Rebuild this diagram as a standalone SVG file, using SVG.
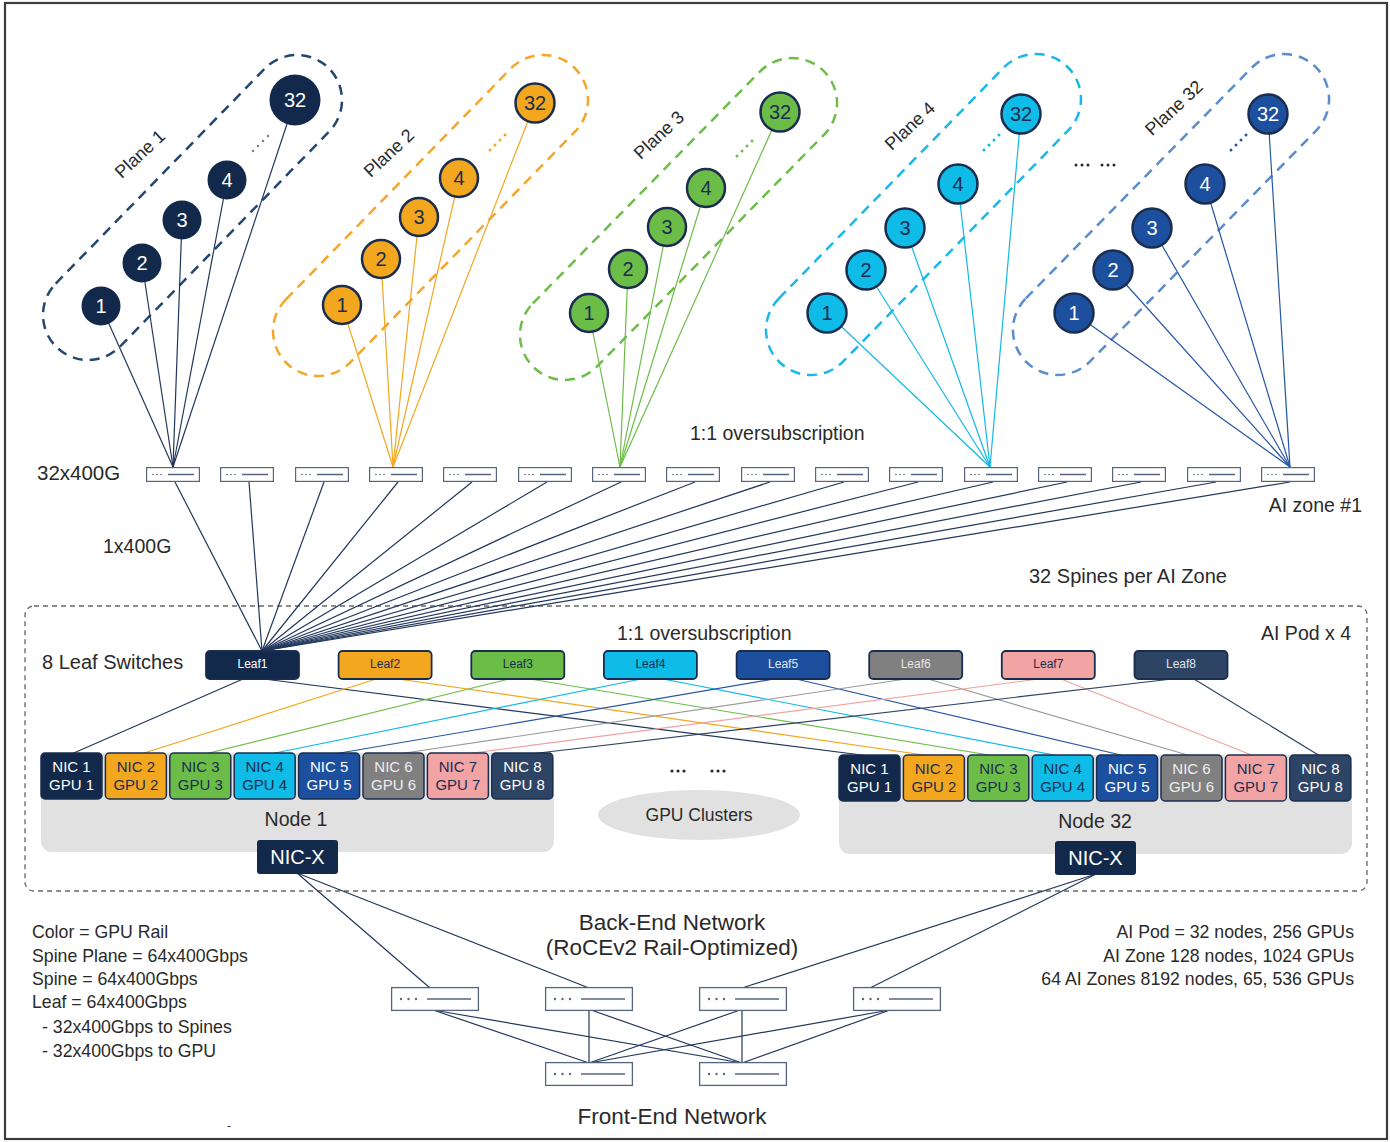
<svg xmlns="http://www.w3.org/2000/svg" width="1390" height="1142" viewBox="0 0 1390 1142">
<style>
text{font-family:"Liberation Sans",Arial,sans-serif;fill:#2a2a2a}
.lbl{font-size:19.5px}
.note{font-size:17.7px}
.big{font-size:22.5px}
.mid{text-anchor:middle}
.end{text-anchor:end}
.cap{fill:none;stroke-width:2.5;stroke-dasharray:10 7}
.num{font-size:20px;text-anchor:middle;dominant-baseline:central}
.plane{font-size:18px;text-anchor:middle;dominant-baseline:central}
.ring{stroke:#1b2d4f;stroke-width:2.5}
.leaf{stroke:#1b2d4f;stroke-width:1.8}
.leaft{font-size:12px;text-anchor:middle}
.nic{stroke:#1b2d4f;stroke-width:1.5}
.nict{font-size:15px;text-anchor:middle}
.wt{fill:#ffffff}
.dk{fill:#1b2d4f}
.conn line{stroke-width:1.2;fill:none}
.c-navy{stroke:#22375c}
.c-or{stroke:#f2a61f}
.c-gr{stroke:#6cbd48}
.c-cy{stroke:#12b8e6}
.c-bl{stroke:#2556a6}
.c-gy{stroke:#9a9a9a}
.c-pk{stroke:#f0a2a2}
.c-sl{stroke:#2e4465}
</style>
<defs>
  <!-- small spine switch icon -->
  <g id="spine-icon">
    <rect x="0.6" y="0.6" width="52.8" height="13.8" fill="#ffffff" stroke="#56657f" stroke-width="1.2"/>
    <circle cx="7" cy="7.5" r="0.8" fill="#56657f"/>
    <circle cx="11" cy="7.5" r="0.8" fill="#56657f"/>
    <circle cx="15" cy="7.5" r="0.8" fill="#56657f"/>
    <line x1="22" y1="7.5" x2="48" y2="7.5" stroke="#56657f" stroke-width="1.5"/>
  </g>
  <!-- front-end switch icon -->
  <g id="fe-icon">
    <rect x="0.6" y="0.6" width="86.8" height="22.8" fill="#ffffff" stroke="#56657f" stroke-width="1.3"/>
    <circle cx="10" cy="12" r="1.2" fill="#56657f"/>
    <circle cx="17.5" cy="12" r="1.2" fill="#56657f"/>
    <circle cx="25" cy="12" r="1.2" fill="#56657f"/>
    <line x1="36" y1="12" x2="80" y2="12" stroke="#56657f" stroke-width="1.5"/>
  </g>
</defs>

<rect x="0" y="0" width="1390" height="1142" fill="#ffffff"/>
<rect x="5" y="3" width="1382" height="1136" fill="none" stroke="#3c3c3c" stroke-width="2.2"/>

<!-- AI Pod boundary -->
<rect x="25" y="606" width="1342" height="285" rx="9" fill="none" stroke="#666" stroke-width="1.3" stroke-dasharray="5 4"/>

<!-- plane enclosures -->
<g id="plane-enclosures">
  <rect class="cap" stroke="#24476f" x="-194.9" y="-45" width="389.8" height="90" rx="45" transform="translate(192.5,207.5) rotate(-45.8)"/>
  <rect class="cap" stroke="#f4a62a" x="-206.25" y="-45" width="412.5" height="90" rx="45" transform="translate(430.5,215.5) rotate(-45.76)"/>
  <rect class="cap" stroke="#6cbd48" x="-207.3" y="-45" width="414.6" height="90" rx="45" transform="translate(678.5,219) rotate(-45.6)"/>
  <rect class="cap" stroke="#1ab8e8" x="-206.25" y="-45" width="412.5" height="90" rx="45" transform="translate(923.5,214.5) rotate(-45.76)"/>
  <rect class="cap" stroke="#5b8ccb" x="-206.6" y="-45" width="413.2" height="90" rx="45" transform="translate(1171,214.5) rotate(-45.6)"/>
  <text class="plane" transform="translate(140,154) rotate(-43)">Plane 1</text>
  <text class="plane" transform="translate(389,153) rotate(-43)">Plane 2</text>
  <text class="plane" transform="translate(659,135) rotate(-43)">Plane 3</text>
  <text class="plane" transform="translate(910,126) rotate(-43)">Plane 4</text>
  <text class="plane" transform="translate(1174,108) rotate(-43)">Plane 32</text>
  <!-- ellipsis marks -->
  <g fill="#7a7a7a"><circle cx="253" cy="151" r="1.2"/><circle cx="258" cy="146" r="1.2"/><circle cx="263" cy="141" r="1.2"/><circle cx="268" cy="136" r="1.2"/></g>
  <g fill="#f2a61f"><circle cx="490" cy="150" r="1.5"/><circle cx="495" cy="145" r="1.5"/><circle cx="500" cy="140" r="1.5"/><circle cx="505" cy="135" r="1.5"/></g>
  <g fill="#6cbd48"><circle cx="737" cy="156" r="1.5"/><circle cx="742" cy="151" r="1.5"/><circle cx="747" cy="146" r="1.5"/><circle cx="752" cy="141" r="1.5"/></g>
  <g fill="#12b8e6"><circle cx="984" cy="150" r="1.5"/><circle cx="989" cy="145" r="1.5"/><circle cx="994" cy="140" r="1.5"/><circle cx="999" cy="135" r="1.5"/></g>
  <g fill="#2556a6"><circle cx="1231" cy="150" r="1.5"/><circle cx="1236" cy="145" r="1.5"/><circle cx="1241" cy="140" r="1.5"/><circle cx="1246" cy="135" r="1.5"/></g>
  <g fill="#2a2a2a"><circle cx="1076" cy="165" r="1.5"/><circle cx="1082" cy="165" r="1.5"/><circle cx="1088" cy="165" r="1.5"/><circle cx="1102" cy="165" r="1.5"/><circle cx="1108" cy="165" r="1.5"/><circle cx="1114" cy="165" r="1.5"/></g>
</g>

<!-- connectors -->
<g id="connectors" class="conn">
  <!-- plane spines to their spine switch -->
  <g class="c-navy">
    <line x1="101" y1="306" x2="173" y2="467"/><line x1="142" y1="263" x2="173" y2="467"/><line x1="182" y1="220" x2="173" y2="467"/><line x1="227" y1="180" x2="173" y2="467"/><line x1="295" y1="100" x2="173" y2="467"/>
  </g>
  <g class="c-or">
    <line x1="342" y1="305" x2="393" y2="467"/><line x1="381" y1="259" x2="393" y2="467"/><line x1="419" y1="217" x2="393" y2="467"/><line x1="459" y1="178" x2="393" y2="467"/><line x1="535" y1="103" x2="393" y2="467"/>
  </g>
  <g class="c-gr">
    <line x1="589" y1="313" x2="620" y2="467"/><line x1="628" y1="269" x2="620" y2="467"/><line x1="667" y1="227" x2="620" y2="467"/><line x1="706" y1="188" x2="620" y2="467"/><line x1="780" y1="112" x2="620" y2="467"/>
  </g>
  <g class="c-cy">
    <line x1="827" y1="313" x2="990" y2="467"/><line x1="866" y1="270" x2="990" y2="467"/><line x1="905" y1="228" x2="990" y2="467"/><line x1="958" y1="184" x2="990" y2="467"/><line x1="1021" y1="114" x2="990" y2="467"/>
  </g>
  <g class="c-bl">
    <line x1="1074" y1="313" x2="1290" y2="467"/><line x1="1113" y1="270" x2="1290" y2="467"/><line x1="1152" y1="228" x2="1290" y2="467"/><line x1="1205" y1="184" x2="1290" y2="467"/><line x1="1268" y1="114" x2="1290" y2="467"/>
  </g>
  <!-- spine switches down to Leaf1 -->
  <g class="c-navy">
    <line x1="175" y1="482" x2="262" y2="651"/><line x1="249" y1="482" x2="262" y2="651"/><line x1="324" y1="482" x2="262" y2="651"/><line x1="398" y1="482" x2="262" y2="651"/>
    <line x1="472" y1="482" x2="262" y2="651"/><line x1="547" y1="482" x2="262" y2="651"/><line x1="621" y1="482" x2="262" y2="651"/><line x1="695" y1="482" x2="262" y2="651"/>
    <line x1="770" y1="482" x2="262" y2="651"/><line x1="844" y1="482" x2="262" y2="651"/><line x1="918" y1="482" x2="262" y2="651"/><line x1="993" y1="482" x2="262" y2="651"/>
    <line x1="1067" y1="482" x2="262" y2="651"/><line x1="1141" y1="482" x2="262" y2="651"/><line x1="1216" y1="482" x2="262" y2="651"/><line x1="1290" y1="482" x2="262" y2="651"/>
  </g>
  <!-- leaf rails to node NICs -->
  <line class="c-navy" x1="243" y1="679" x2="71.5" y2="754"/><line class="c-navy" x1="264" y1="679" x2="869.5" y2="756"/>
  <line class="c-or" x1="376" y1="679" x2="141" y2="754"/><line class="c-or" x1="398" y1="679" x2="931" y2="756"/>
  <line class="c-gr" x1="509" y1="679" x2="205" y2="754"/><line class="c-gr" x1="530" y1="679" x2="995" y2="756"/>
  <line class="c-cy" x1="641" y1="679" x2="270" y2="754"/><line class="c-cy" x1="663" y1="679" x2="1059" y2="756"/>
  <line class="c-bl" x1="774" y1="679" x2="334" y2="754"/><line class="c-bl" x1="796" y1="679" x2="1125" y2="756"/>
  <line class="c-gy" x1="906" y1="679" x2="398" y2="754"/><line class="c-gy" x1="928" y1="679" x2="1191" y2="756"/>
  <line class="c-pk" x1="1039" y1="679" x2="465" y2="754"/><line class="c-pk" x1="1061" y1="679" x2="1254" y2="756"/>
  <line class="c-sl" x1="1172" y1="679" x2="530" y2="754"/><line class="c-sl" x1="1194" y1="679" x2="1320" y2="756"/>
  <!-- NIC-X to front-end -->
  <g class="c-navy">
    <line x1="297" y1="873" x2="430" y2="988"/><line x1="297" y1="873" x2="589" y2="988"/>
    <line x1="1096" y1="874" x2="742" y2="988"/><line x1="1096" y1="874" x2="870" y2="988"/>
    <line x1="433" y1="1010" x2="589" y2="1063"/><line x1="433" y1="1010" x2="742" y2="1063"/>
    <line x1="589" y1="1010" x2="589" y2="1063"/><line x1="591" y1="1010" x2="742" y2="1063"/>
    <line x1="742" y1="1010" x2="742" y2="1063"/><line x1="740" y1="1010" x2="589" y2="1063"/>
    <line x1="890" y1="1010" x2="589" y2="1063"/><line x1="890" y1="1010" x2="742" y2="1063"/>
  </g>
</g>

<!-- plane 1 spines -->
<g id="p1-s1"><circle cx="101" cy="306" r="19.5" fill="#13294b"/><text class="num wt" x="101" y="306">1</text></g>
<g id="p1-s2"><circle cx="142" cy="263" r="19.5" fill="#13294b"/><text class="num wt" x="142" y="263">2</text></g>
<g id="p1-s3"><circle cx="182" cy="220" r="19.5" fill="#13294b"/><text class="num wt" x="182" y="220">3</text></g>
<g id="p1-s4"><circle cx="227" cy="180" r="19.5" fill="#13294b"/><text class="num wt" x="227" y="180">4</text></g>
<g id="p1-s32"><circle cx="295" cy="100" r="25.5" fill="#13294b"/><text class="num wt" x="295" y="100">32</text></g>
<!-- plane 2 spines -->
<g id="p2-s1"><circle class="ring" cx="342" cy="305" r="19" fill="#f2a71e"/><text class="num dk" x="342" y="305">1</text></g>
<g id="p2-s2"><circle class="ring" cx="381" cy="259" r="19" fill="#f2a71e"/><text class="num dk" x="381" y="259">2</text></g>
<g id="p2-s3"><circle class="ring" cx="419" cy="217" r="19" fill="#f2a71e"/><text class="num dk" x="419" y="217">3</text></g>
<g id="p2-s4"><circle class="ring" cx="459" cy="178" r="19" fill="#f2a71e"/><text class="num dk" x="459" y="178">4</text></g>
<g id="p2-s32"><circle class="ring" cx="535" cy="103" r="19.5" fill="#f2a71e"/><text class="num dk" x="535" y="103">32</text></g>
<!-- plane 3 spines -->
<g id="p3-s1"><circle class="ring" cx="589" cy="313" r="19" fill="#6cbd48"/><text class="num dk" x="589" y="313">1</text></g>
<g id="p3-s2"><circle class="ring" cx="628" cy="269" r="19" fill="#6cbd48"/><text class="num dk" x="628" y="269">2</text></g>
<g id="p3-s3"><circle class="ring" cx="667" cy="227" r="19" fill="#6cbd48"/><text class="num dk" x="667" y="227">3</text></g>
<g id="p3-s4"><circle class="ring" cx="706" cy="188" r="19" fill="#6cbd48"/><text class="num dk" x="706" y="188">4</text></g>
<g id="p3-s32"><circle class="ring" cx="780" cy="112" r="19.5" fill="#6cbd48"/><text class="num dk" x="780" y="112">32</text></g>
<!-- plane 4 spines -->
<g id="p4-s1"><circle class="ring" cx="827" cy="313" r="19.5" fill="#0fbbe7"/><text class="num dk" x="827" y="313">1</text></g>
<g id="p4-s2"><circle class="ring" cx="866" cy="270" r="19.5" fill="#0fbbe7"/><text class="num dk" x="866" y="270">2</text></g>
<g id="p4-s3"><circle class="ring" cx="905" cy="228" r="19.5" fill="#0fbbe7"/><text class="num dk" x="905" y="228">3</text></g>
<g id="p4-s4"><circle class="ring" cx="958" cy="184" r="19.5" fill="#0fbbe7"/><text class="num dk" x="958" y="184">4</text></g>
<g id="p4-s32"><circle class="ring" cx="1021" cy="114" r="19.5" fill="#0fbbe7"/><text class="num dk" x="1021" y="114">32</text></g>
<!-- plane 32 spines -->
<g id="p32-s1"><circle class="ring" cx="1074" cy="313" r="19.5" fill="#1d4f9f"/><text class="num wt" x="1074" y="313">1</text></g>
<g id="p32-s2"><circle class="ring" cx="1113" cy="270" r="19.5" fill="#1d4f9f"/><text class="num wt" x="1113" y="270">2</text></g>
<g id="p32-s3"><circle class="ring" cx="1152" cy="228" r="19.5" fill="#1d4f9f"/><text class="num wt" x="1152" y="228">3</text></g>
<g id="p32-s4"><circle class="ring" cx="1205" cy="184" r="19.5" fill="#1d4f9f"/><text class="num wt" x="1205" y="184">4</text></g>
<g id="p32-s32"><circle class="ring" cx="1268" cy="114" r="19.5" fill="#1d4f9f"/><text class="num wt" x="1268" y="114">32</text></g>

<!-- spine switch row -->
<g id="spine-1"><use href="#spine-icon" x="146" y="467"/></g>
<g id="spine-2"><use href="#spine-icon" x="220" y="467"/></g>
<g id="spine-3"><use href="#spine-icon" x="295" y="467"/></g>
<g id="spine-4"><use href="#spine-icon" x="369" y="467"/></g>
<g id="spine-5"><use href="#spine-icon" x="443" y="467"/></g>
<g id="spine-6"><use href="#spine-icon" x="518" y="467"/></g>
<g id="spine-7"><use href="#spine-icon" x="592" y="467"/></g>
<g id="spine-8"><use href="#spine-icon" x="666" y="467"/></g>
<g id="spine-9"><use href="#spine-icon" x="741" y="467"/></g>
<g id="spine-10"><use href="#spine-icon" x="815" y="467"/></g>
<g id="spine-11"><use href="#spine-icon" x="889" y="467"/></g>
<g id="spine-12"><use href="#spine-icon" x="964" y="467"/></g>
<g id="spine-13"><use href="#spine-icon" x="1038" y="467"/></g>
<g id="spine-14"><use href="#spine-icon" x="1112" y="467"/></g>
<g id="spine-15"><use href="#spine-icon" x="1187" y="467"/></g>
<g id="spine-16"><use href="#spine-icon" x="1261" y="467"/></g>

<!-- leaf switches -->
<g id="leaf1"><rect class="leaf" x="206" y="651" width="93" height="28" rx="4" fill="#13294b"/><text class="leaft wt" x="252.5" y="668">Leaf1</text></g>
<g id="leaf2"><rect class="leaf" x="338.6" y="651" width="93" height="28" rx="4" fill="#f2a71e"/><text class="leaft dk" x="385.1" y="668">Leaf2</text></g>
<g id="leaf3"><rect class="leaf" x="471.3" y="651" width="93" height="28" rx="4" fill="#6cbd48"/><text class="leaft dk" x="517.8" y="668">Leaf3</text></g>
<g id="leaf4"><rect class="leaf" x="603.9" y="651" width="93" height="28" rx="4" fill="#0fbbe7"/><text class="leaft dk" x="650.4" y="668">Leaf4</text></g>
<g id="leaf5"><rect class="leaf" x="736.6" y="651" width="93" height="28" rx="4" fill="#1d4f9f"/><text class="leaft" style="fill:#dfe7f5" x="783.1" y="668">Leaf5</text></g>
<g id="leaf6"><rect class="leaf" x="869.2" y="651" width="93" height="28" rx="4" fill="#808080"/><text class="leaft" style="fill:#e6e6e6" x="915.7" y="668">Leaf6</text></g>
<g id="leaf7"><rect class="leaf" x="1001.8" y="651" width="93" height="28" rx="4" fill="#f2a3a3"/><text class="leaft dk" x="1048.3" y="668">Leaf7</text></g>
<g id="leaf8"><rect class="leaf" x="1134.5" y="651" width="93" height="28" rx="4" fill="#2e4465"/><text class="leaft" style="fill:#dfe3ea" x="1181" y="668">Leaf8</text></g>

<!-- node 1 -->
<g id="node-1">
  <rect x="41" y="753" width="513" height="99" rx="11" fill="#e1e1e1"/>
  <text class="mid" x="296" y="826" style="font-size:19.5px">Node 1</text>
  <rect class="nic" x="41" y="753" width="61" height="46" rx="4" fill="#13294b"/><text class="nict wt" x="71.5" y="772">NIC 1</text><text class="nict wt" x="71.5" y="790">GPU 1</text>
  <rect class="nic" x="105.4" y="753" width="61" height="46" rx="4" fill="#f2a71e"/><text class="nict dk" x="135.9" y="772">NIC 2</text><text class="nict dk" x="135.9" y="790">GPU 2</text>
  <rect class="nic" x="169.8" y="753" width="61" height="46" rx="4" fill="#6cbd48"/><text class="nict dk" x="200.3" y="772">NIC 3</text><text class="nict dk" x="200.3" y="790">GPU 3</text>
  <rect class="nic" x="234.2" y="753" width="61" height="46" rx="4" fill="#0fbbe7"/><text class="nict dk" x="264.7" y="772">NIC 4</text><text class="nict dk" x="264.7" y="790">GPU 4</text>
  <rect class="nic" x="298.6" y="753" width="61" height="46" rx="4" fill="#1d4f9f"/><text class="nict wt" x="329.1" y="772">NIC 5</text><text class="nict wt" x="329.1" y="790">GPU 5</text>
  <rect class="nic" x="363" y="753" width="61" height="46" rx="4" fill="#808080"/><text class="nict" style="fill:#eeeeee" x="393.5" y="772">NIC 6</text><text class="nict" style="fill:#eeeeee" x="393.5" y="790">GPU 6</text>
  <rect class="nic" x="427.4" y="753" width="61" height="46" rx="4" fill="#f2a3a3"/><text class="nict dk" x="457.9" y="772">NIC 7</text><text class="nict dk" x="457.9" y="790">GPU 7</text>
  <rect class="nic" x="491.8" y="753" width="61" height="46" rx="4" fill="#2e4465"/><text class="nict wt" x="522.3" y="772">NIC 8</text><text class="nict wt" x="522.3" y="790">GPU 8</text>
</g>
<g id="nicx-1"><rect x="257" y="840" width="81" height="34" rx="3" fill="#13294b"/><text class="mid wt" x="297.5" y="864" style="font-size:20px">NIC-X</text></g>

<!-- node 32 -->
<g id="node-32">
  <rect x="839" y="755" width="513" height="99" rx="11" fill="#e1e1e1"/>
  <text class="mid" x="1095" y="828" style="font-size:19.5px">Node 32</text>
  <rect class="nic" x="839" y="755" width="61" height="46" rx="4" fill="#13294b"/><text class="nict wt" x="869.5" y="774">NIC 1</text><text class="nict wt" x="869.5" y="792">GPU 1</text>
  <rect class="nic" x="903.4" y="755" width="61" height="46" rx="4" fill="#f2a71e"/><text class="nict dk" x="933.9" y="774">NIC 2</text><text class="nict dk" x="933.9" y="792">GPU 2</text>
  <rect class="nic" x="967.8" y="755" width="61" height="46" rx="4" fill="#6cbd48"/><text class="nict dk" x="998.3" y="774">NIC 3</text><text class="nict dk" x="998.3" y="792">GPU 3</text>
  <rect class="nic" x="1032.2" y="755" width="61" height="46" rx="4" fill="#0fbbe7"/><text class="nict dk" x="1062.7" y="774">NIC 4</text><text class="nict dk" x="1062.7" y="792">GPU 4</text>
  <rect class="nic" x="1096.6" y="755" width="61" height="46" rx="4" fill="#1d4f9f"/><text class="nict wt" x="1127.1" y="774">NIC 5</text><text class="nict wt" x="1127.1" y="792">GPU 5</text>
  <rect class="nic" x="1161" y="755" width="61" height="46" rx="4" fill="#808080"/><text class="nict" style="fill:#eeeeee" x="1191.5" y="774">NIC 6</text><text class="nict" style="fill:#eeeeee" x="1191.5" y="792">GPU 6</text>
  <rect class="nic" x="1225.4" y="755" width="61" height="46" rx="4" fill="#f2a3a3"/><text class="nict dk" x="1255.9" y="774">NIC 7</text><text class="nict dk" x="1255.9" y="792">GPU 7</text>
  <rect class="nic" x="1289.8" y="755" width="61" height="46" rx="4" fill="#2e4465"/><text class="nict wt" x="1320.3" y="774">NIC 8</text><text class="nict wt" x="1320.3" y="792">GPU 8</text>
</g>
<g id="nicx-32"><rect x="1055" y="841" width="81" height="34" rx="3" fill="#13294b"/><text class="mid wt" x="1095.5" y="865" style="font-size:20px">NIC-X</text></g>

<!-- GPU clusters -->
<g id="gpu-clusters">
  <ellipse cx="699" cy="815" rx="101" ry="25" fill="#e1e1e1"/>
  <text class="mid" x="699" y="821" style="font-size:17.5px">GPU Clusters</text>
  <g fill="#2a2a2a"><circle cx="672" cy="771" r="1.6"/><circle cx="678" cy="771" r="1.6"/><circle cx="684" cy="771" r="1.6"/><circle cx="712" cy="771" r="1.6"/><circle cx="718" cy="771" r="1.6"/><circle cx="724" cy="771" r="1.6"/></g>
</g>

<!-- front-end switches -->
<g id="fe-1"><use href="#fe-icon" x="391" y="987"/></g>
<g id="fe-2"><use href="#fe-icon" x="545" y="987"/></g>
<g id="fe-3"><use href="#fe-icon" x="699" y="987"/></g>
<g id="fe-4"><use href="#fe-icon" x="853" y="987"/></g>
<g id="fe-5"><use href="#fe-icon" x="545" y="1062"/></g>
<g id="fe-6"><use href="#fe-icon" x="699" y="1062"/></g>

<!-- labels -->
<g id="labels">
  <text class="lbl" x="37" y="480" style="font-size:20.5px">32x400G</text>
  <text class="lbl" x="103" y="553">1x400G</text>
  <text class="lbl" x="690" y="440">1:1 oversubscription</text>
  <text class="lbl end" x="1362" y="512">AI zone #1</text>
  <text class="lbl" x="1029" y="583" style="font-size:20px">32 Spines per AI Zone</text>
  <text class="lbl" x="617" y="640">1:1 oversubscription</text>
  <text class="lbl end" x="1351" y="640">AI Pod x 4</text>
  <text class="lbl" x="42" y="669" style="font-size:20px">8 Leaf Switches</text>
  <text class="big mid" x="672" y="930">Back-End Network</text>
  <text class="big mid" x="672" y="955">(RoCEv2 Rail-Optimized)</text>
  <text class="big mid" x="672" y="1124">Front-End Network</text>
  <text class="note" x="32" y="938">Color = GPU Rail</text>
  <text class="note" x="32" y="962">Spine Plane = 64x400Gbps</text>
  <text class="note" x="32" y="985">Spine = 64x400Gbps</text>
  <text class="note" x="32" y="1008">Leaf = 64x400Gbps</text>
  <text class="note" x="42" y="1033">- 32x400Gbps to Spines</text>
  <text class="note" x="42" y="1057">- 32x400Gbps to GPU</text>
  <text class="note" x="227" y="1130" style="font-size:12px">-</text>
  <text class="note end" x="1354" y="938">AI Pod = 32 nodes, 256 GPUs</text>
  <text class="note end" x="1354" y="962">AI Zone 128 nodes, 1024 GPUs</text>
  <text class="note end" x="1354" y="985">64 AI Zones 8192 nodes, 65, 536 GPUs</text>
</g>
</svg>
